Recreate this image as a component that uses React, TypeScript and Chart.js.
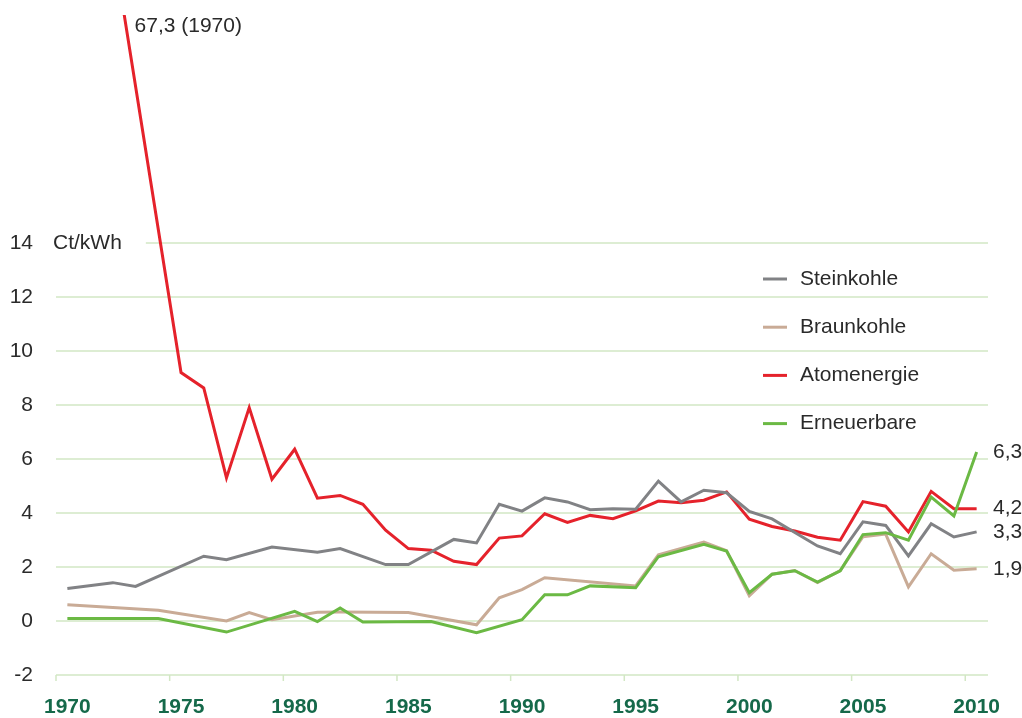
import React, { useEffect, useRef } from 'react';
import { Chart, registerables } from 'chart.js';

Chart.register(...registerables);

// ---- Data (null = no vertex, line spans) ----
const years = [
  1970, 1971, 1972, 1973, 1974, 1975, 1976, 1977, 1978, 1979,
  1980, 1981, 1982, 1983, 1984, 1985, 1986, 1987, 1988, 1989,
  1990, 1991, 1992, 1993, 1994, 1995, 1996, 1997, 1998, 1999,
  2000, 2001, 2002, 2003, 2004, 2005, 2006, 2007, 2008, 2009, 2010,
];

const steinkohle = [
  1.2, null, 1.42, 1.28, null, null, 2.4, 2.27, null, 2.74,
  null, 2.55, 2.68, null, 2.09, 2.09, null, 3.02, 2.89, 4.32,
  4.07, 4.56, 4.41, 4.12, 4.16, 4.14, 5.18, 4.41, 4.84, 4.75,
  4.06, 3.78, null, 2.78, 2.49, 3.67, 3.54, 2.41, 3.6, 3.11, 3.3,
];

const braunkohle = [
  0.6, null, null, null, 0.4, null, null, 0.0, 0.31, 0.05,
  null, 0.32, 0.33, null, null, 0.31, null, null, -0.14, 0.86,
  1.16, 1.6, null, null, null, 1.3, 2.45, null, 2.92, 2.6,
  0.93, 1.73, 1.87, 1.42, 1.87, 3.12, 3.22, 1.26, 2.49, 1.88, 1.93,
];

// The 1970 value (67,3) is far off-scale; the visible steep segment is drawn
// as it appears in the picture and clipped at the top of the plot.
const atomenergie = [
  null, null, 25.1, null, null, 9.2, 8.63, 5.3, 7.9, 5.25,
  6.36, 4.55, 4.65, 4.32, 3.36, 2.68, 2.62, 2.21, 2.09, 3.07,
  3.15, 3.97, 3.65, 3.91, 3.79, 4.08, 4.44, 4.38, 4.47, 4.78,
  3.77, 3.5, 3.33, 3.1, 2.99, 4.42, 4.25, 3.3, 4.8, 4.16, 4.16,
];

const erneuerbare = [
  0.09, null, null, null, 0.09, null, null, -0.41, null, null,
  0.36, -0.02, 0.48, -0.04, null, null, -0.02, null, -0.43, null,
  0.05, 0.97, 0.97, 1.3, null, 1.23, 2.38, null, 2.84, 2.59,
  1.05, 1.73, 1.86, 1.44, 1.86, 3.2, 3.27, 2.99, 4.59, 3.89, 6.26,
];

const seriesNames = ['Steinkohle', 'Braunkohle', 'Atomenergie', 'Erneuerbare'];
const seriesColors = ['#818285', '#c9ab96', '#e5222b', '#6bb944'];
const yTicks = [-2, 0, 2, 4, 6, 8, 10, 12, 14];
const xTickYears = [1970, 1975, 1980, 1985, 1990, 1995, 2000, 2005, 2010];
const unitLabel = 'Ct/kWh';
const topNote = '67,3 (1970)';
const topNoteYear = 1973;

// ---- Styles ----
const FONT_FAMILY = '"Liberation Sans", Arial, Helvetica, sans-serif';
const TEXT_COLOR = '#2a2a2a';
const GRID_COLOR = '#d2e7c4';
const XLABEL_COLOR = '#15694a';

const decorPlugin = {
  id: 'decor',
  beforeDatasetsDraw(chart: any) {
    const { ctx, chartArea, scales } = chart;
    const xs = scales.x;
    const ys = scales.y;
    ctx.save();
    ctx.font = `21px ${FONT_FAMILY}`;
    const unitX = chartArea.left - 3;
    const unitW = ctx.measureText(unitLabel).width;
    ctx.strokeStyle = GRID_COLOR;
    ctx.lineWidth = 1.5;
    const topTick = yTicks[yTicks.length - 1];
    yTicks.forEach((v) => {
      const py = ys.getPixelForValue(v);
      const x0 = v === topTick ? unitX + unitW + 24 : chartArea.left;
      ctx.beginPath();
      ctx.moveTo(x0, py);
      ctx.lineTo(chartArea.right, py);
      ctx.stroke();
    });
    // small tick marks at the year boundaries below the bottom gridline
    const half = (xs.getPixelForValue(1) - xs.getPixelForValue(0)) / 2;
    const by = ys.getPixelForValue(yTicks[0]);
    years.forEach((yr, i) => {
      if (xTickYears.includes(yr)) {
        const px = xs.getPixelForValue(i) - half;
        ctx.beginPath();
        ctx.moveTo(px, by);
        ctx.lineTo(px, by + 6);
        ctx.stroke();
      }
    });
    // unit label
    ctx.fillStyle = TEXT_COLOR;
    ctx.textAlign = 'left';
    ctx.textBaseline = 'middle';
    ctx.fillText(unitLabel, unitX, ys.getPixelForValue(topTick));
    ctx.restore();
  },
  afterDatasetsDraw(chart: any) {
    const { ctx, chartArea, scales } = chart;
    const xs = scales.x;
    const ys = scales.y;
    ctx.save();
    ctx.font = `21px ${FONT_FAMILY}`;
    ctx.fillStyle = TEXT_COLOR;
    ctx.textAlign = 'left';
    ctx.textBaseline = 'middle';
    // off-scale note
    ctx.fillText(topNote, xs.getPixelForValue(years.indexOf(topNoteYear)) - 1, chartArea.top + 11);
    // end-value labels
    chart.data.datasets.forEach((ds: any) => {
      const last = ds.data[ds.data.length - 1];
      if (last == null) return;
      const txt = last.toFixed(1).replace('.', ',');
      ctx.fillText(txt, chartArea.right + 5, ys.getPixelForValue(last));
    });
    // legend
    const lx = 763;
    const ly0 = 279;
    const step = 48.2;
    seriesNames.forEach((name, i) => {
      const yy = ly0 + i * step;
      ctx.strokeStyle = seriesColors[i];
      ctx.lineWidth = 3;
      ctx.beginPath();
      ctx.moveTo(lx, yy);
      ctx.lineTo(lx + 24, yy);
      ctx.stroke();
      ctx.fillStyle = TEXT_COLOR;
      ctx.fillText(name, lx + 37, yy);
    });
    ctx.restore();
  },
};

export default function App() {
  const canvasRef = useRef<HTMLCanvasElement | null>(null);

  useEffect(() => {
    if (!canvasRef.current) return;
    const seriesData = [steinkohle, braunkohle, atomenergie, erneuerbare];
    const drawOrder = [1, 3, 2, 0];
    const chart = new Chart(canvasRef.current, {
      type: 'line',
      data: {
        labels: years.map(String),
        datasets: seriesNames.map((name, i) => ({
          label: name,
          data: seriesData[i],
          borderColor: seriesColors[i],
          backgroundColor: seriesColors[i],
          borderWidth: 3,
          pointRadius: 0,
          tension: 0,
          spanGaps: true,
          fill: false,
          order: drawOrder[i],
        })),
      },
      options: {
        animation: false,
        responsive: true,
        maintainAspectRatio: false,
        layout: { padding: { top: 15, right: 34, left: 0, bottom: 0 } },
        plugins: {
          legend: { display: false },
          tooltip: { enabled: false },
        },
        scales: {
          x: {
            type: 'category',
            offset: true,
            grid: { display: false, drawTicks: false },
            border: { display: false },
            afterBuildTicks: (s: any) => {
              s.ticks = years
                .map((yr, i) => ({ yr, i }))
                .filter((o) => xTickYears.includes(o.yr))
                .map((o) => ({ value: o.i }));
            },
            ticks: {
              autoSkip: false,
              maxRotation: 0,
              color: XLABEL_COLOR,
              font: { family: FONT_FAMILY, size: 21, weight: 'bold' },
              padding: 20,
            },
            afterFit: (s: any) => {
              s.height = 43;
              s.paddingLeft = 0;
              s.paddingRight = 0;
            },
          },
          y: {
            type: 'linear',
            min: -2,
            max: 22.44,
            grid: { display: false, drawTicks: false },
            border: { display: false },
            afterBuildTicks: (s: any) => {
              s.ticks = yTicks.map((v) => ({ value: v }));
            },
            ticks: {
              color: TEXT_COLOR,
              font: { family: FONT_FAMILY, size: 21 },
              padding: 23,
            },
            afterFit: (s: any) => {
              s.width = 56;
              s.paddingTop = 0;
              s.paddingBottom = 0;
            },
          },
        },
      } as any,
      plugins: [decorPlugin],
    });
    return () => chart.destroy();
  }, []);

  return (
    <div style={{ position: 'absolute', left: 0, top: 0, width: 1022, height: 718, background: '#fff' }}>
      <canvas ref={canvasRef} />
    </div>
  );
}
